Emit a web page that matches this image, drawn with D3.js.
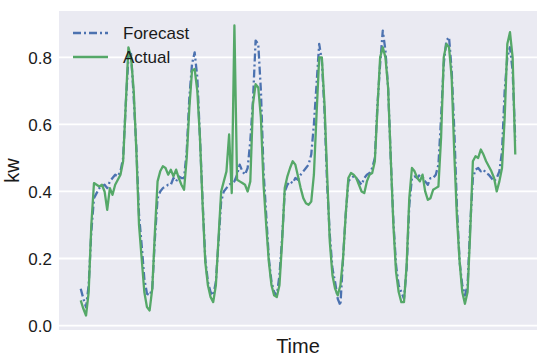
<!DOCTYPE html>
<html>
<head>
<meta charset="utf-8">
<script src="https://cdn.jsdelivr.net/npm/d3@7"></script>
<style>
  body { margin: 0; background: #fff; }
  text { font-family: "Liberation Sans", Arial, sans-serif; fill: #1a1a1a; }
</style>
</head>
<body>
<div id="vis"></div>
<script>
// hourly readings, one week
var actual = [
  0.075, 0.05, 0.03, 0.10, 0.30, 0.425, 0.42, 0.415, 0.42, 0.40,
  0.345, 0.41, 0.39, 0.42, 0.435, 0.45, 0.49, 0.66, 0.83, 0.80,
  0.70, 0.52, 0.30, 0.20, 0.10, 0.055, 0.045, 0.11, 0.28, 0.43,
  0.46, 0.475, 0.47, 0.45, 0.465, 0.445, 0.465, 0.44, 0.42, 0.405,
  0.50, 0.65, 0.76, 0.765, 0.70, 0.56, 0.36, 0.19, 0.12, 0.085,
  0.07, 0.12, 0.26, 0.40, 0.43, 0.46, 0.57, 0.395, 0.895, 0.435,
  0.43, 0.425, 0.42, 0.40, 0.43, 0.66, 0.72, 0.71, 0.62, 0.42,
  0.30, 0.19, 0.12, 0.09, 0.085, 0.12, 0.25, 0.41, 0.445, 0.47,
  0.49, 0.48, 0.445, 0.41, 0.38, 0.365, 0.36, 0.37, 0.45, 0.63,
  0.80, 0.80, 0.66, 0.45, 0.25, 0.15, 0.11, 0.09, 0.12, 0.20,
  0.33, 0.44, 0.455, 0.45, 0.44, 0.42, 0.40, 0.395, 0.43, 0.45,
  0.455, 0.49, 0.65, 0.80, 0.83, 0.80, 0.71, 0.50, 0.30, 0.16,
  0.10, 0.07, 0.07, 0.18, 0.38, 0.47, 0.46, 0.44, 0.43, 0.45,
  0.40, 0.375, 0.38, 0.405, 0.41, 0.415, 0.56, 0.80, 0.84, 0.83,
  0.74, 0.51, 0.32, 0.19, 0.10, 0.065, 0.10, 0.28, 0.49, 0.505,
  0.50, 0.525, 0.51, 0.49, 0.475, 0.46, 0.44, 0.40, 0.43, 0.47,
  0.62, 0.84, 0.875, 0.80, 0.51
];

var forecast = [
  0.11, 0.08, 0.055, 0.12, 0.28, 0.38, 0.395, 0.41, 0.415, 0.42,
  0.41, 0.43, 0.44, 0.45, 0.445, 0.46, 0.50, 0.66, 0.80, 0.81,
  0.68, 0.53, 0.33, 0.24, 0.14, 0.095, 0.09, 0.11, 0.26, 0.38,
  0.40, 0.41, 0.415, 0.42, 0.42, 0.44, 0.43, 0.445, 0.44, 0.44,
  0.52, 0.68, 0.78, 0.815, 0.74, 0.56, 0.37, 0.20, 0.13, 0.10,
  0.09, 0.13, 0.25, 0.37, 0.40, 0.41, 0.42, 0.425, 0.43, 0.45,
  0.48, 0.46, 0.45, 0.47, 0.55, 0.67, 0.85, 0.84, 0.70, 0.46,
  0.33, 0.20, 0.13, 0.10, 0.09, 0.15, 0.26, 0.40, 0.42, 0.43,
  0.425, 0.44, 0.435, 0.45, 0.46, 0.47, 0.48, 0.51, 0.60, 0.72,
  0.84, 0.79, 0.64, 0.42, 0.27, 0.17, 0.13, 0.08, 0.06, 0.20,
  0.33, 0.43, 0.44, 0.445, 0.44, 0.43, 0.42, 0.44, 0.45, 0.455,
  0.47, 0.50, 0.66, 0.78, 0.88, 0.82, 0.71, 0.50, 0.31, 0.18,
  0.12, 0.10, 0.08, 0.17, 0.36, 0.44, 0.445, 0.44, 0.45, 0.445,
  0.43, 0.42, 0.44, 0.44, 0.45, 0.48, 0.62, 0.78, 0.85, 0.86,
  0.76, 0.58, 0.35, 0.19, 0.12, 0.09, 0.12, 0.30, 0.44, 0.465,
  0.47, 0.46, 0.465, 0.455, 0.45, 0.44, 0.43, 0.44, 0.46, 0.52,
  0.70, 0.80, 0.83, 0.76, 0.55
];

var yTicks = [0.0, 0.2, 0.4, 0.6, 0.8];
var seriesNames = ["Forecast", "Actual"];
var seriesColors = ["#4C72B0", "#55A868"];

var width = 550;
var height = 357;

var margin = {
    top: 11,
    bottom: 27,
    left: 59,
    right: 13
};

var svg = d3.select('#vis')
    .append('svg')
    .attr('width', width)
    .attr('height', height);

var w = width - margin.left - margin.right;
var h = height - margin.top - margin.bottom;

var g = svg.append('g')
    .attr('transform', 'translate(' + margin.left + ',' + margin.top + ')');

// matplotlib style 5% padding
var n = actual.length - 1;
var x_scale = d3.scaleLinear()
    .domain([-0.05 * n, n * 1.05])
    .range([0, w]);

var all = actual.concat(forecast);
var lo = d3.min(all), hi = d3.max(all);
var pad = (hi - lo) * 0.05;
var y_scale = d3.scaleLinear()
    .domain([lo - pad, hi + pad])
    .range([h, 0]);

g.append('rect')
    .attr('width', w)
    .attr('height', h)
    .attr('fill', '#EAEAF2');

// grid
g.selectAll('.grid')
    .data(yTicks)
    .enter()
    .append('line')
    .attr('class', 'grid')
    .attr('x1', 0)
    .attr('x2', w)
    .attr('y1', function(d) { return y_scale(d); })
    .attr('y2', function(d) { return y_scale(d); })
    .attr('stroke', '#fff')
    .attr('stroke-width', 1.8);

var y_axis = d3.axisLeft(y_scale)
    .tickValues(yTicks)
    .tickFormat(d3.format('.1f'))
    .tickSize(0)
    .tickPadding(7);

g.append('g')
    .attr('class', 'y axis')
    .call(y_axis)
    .call(function(a) { a.select('.domain').remove(); })
    .selectAll('text')
    .style('font-size', '17px')
    .attr('dy', '0.35em');

var line = d3.line()
    .x(function(d, i) { return x_scale(i); })
    .y(function(d) { return y_scale(d); });

g.append('path')
    .datum(forecast)
    .attr('d', line)
    .attr('fill', 'none')
    .attr('stroke', seriesColors[0])
    .attr('stroke-width', 2.3)
    .attr('stroke-linejoin', 'round')
    .attr('stroke-dasharray', '8,3,2,3');

g.append('path')
    .datum(actual)
    .attr('d', line)
    .attr('fill', 'none')
    .attr('stroke', seriesColors[1])
    .attr('stroke-width', 2.3)
    .attr('stroke-linejoin', 'round');

// legend
var legend = g.selectAll('.legend')
    .data(seriesNames)
    .enter()
    .append('g')
    .attr('class', 'legend')
    .attr('transform', function(d, i) { return 'translate(14,' + (22 + i * 24) + ')'; });

legend.append('line')
    .attr('x1', 0)
    .attr('x2', 35)
    .attr('stroke', function(d, i) { return seriesColors[i]; })
    .attr('stroke-width', 2.3)
    .attr('stroke-dasharray', function(d, i) { return i == 0 ? '8,3,2,3' : null; });

legend.append('text')
    .attr('x', 50)
    .attr('dy', '0.35em')
    .style('font-size', '17px')
    .text(function(d) { return d; });

// axis labels
svg.append('text')
    .attr('x', margin.left + w / 2)
    .attr('y', height - 4)
    .style('text-anchor', 'middle')
    .style('font-size', '20px')
    .text('Time');

svg.append('text')
    .attr('transform', 'rotate(-90)')
    .attr('x', -(margin.top + h / 2))
    .attr('y', 19)
    .style('text-anchor', 'middle')
    .style('font-size', '20px')
    .text('kw');
</script>
</body>
</html>
